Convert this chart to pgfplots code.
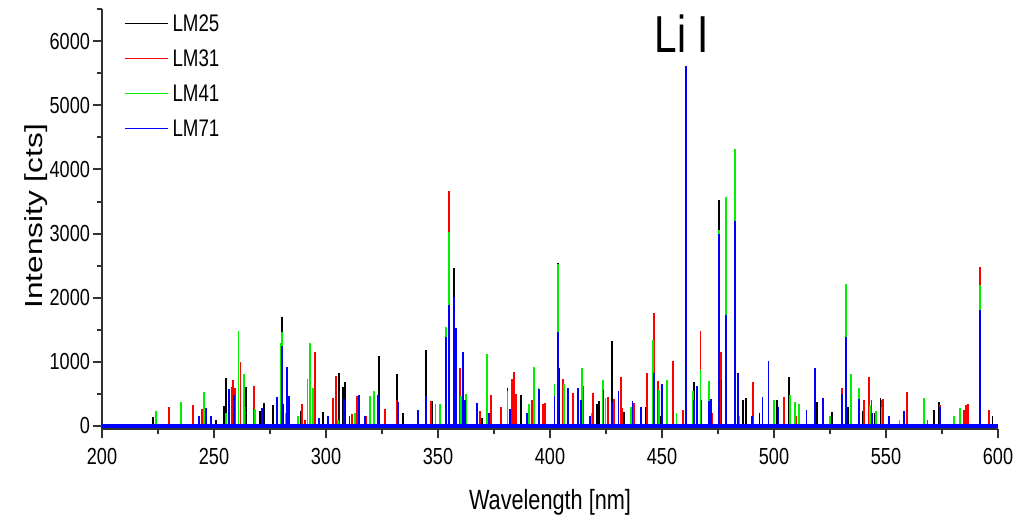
\documentclass[border=0pt]{standalone}
\usepackage{fontspec}
\setmainfont{Liberation Sans}
\newfontfamily\cf{Liberation Sans}[FakeStretch=0.78]
\usepackage{graphicx}
\usepackage{pgfplots}
\pgfplotsset{compat=1.18}
\definecolor{cRed}{RGB}{255,0,0}
\definecolor{cGreen}{RGB}{0,240,0}
\definecolor{cBlue}{RGB}{0,0,255}
\definecolor{axgray}{RGB}{50,50,50}
\begin{document}
\begin{tikzpicture}
\begin{axis}[
  scale only axis, width=448pt, height=210pt,
  xmin=200, xmax=600, ymin=-50, ymax=6500,
  axis x line=bottom, axis y line=left,
  axis line style={-, line width=1pt, axgray},
  tick align=outside, major tick length=4.5pt, minor tick length=2.5pt,
  every tick/.style={line width=1pt, axgray},
  xtick={200,250,...,600}, minor xtick={225,275,...,575},
  ytick={0,1000,...,6000}, minor ytick={500,1500,...,6500},
  /pgf/number format/assume math mode=true,
  /pgf/number format/1000 sep={},
  ticklabel style={font=\cf\fontsize{11.6}{13}\selectfont},
  yticklabel style={xshift=2pt},
  xticklabel style={yshift=-1.5pt},
  xlabel={\cf\fontsize{13.9}{16}\selectfont Wavelength [nm]},
  ylabel={\scalebox{1}[0.78]{\fontsize{15.8}{18}\selectfont Intensity [cts]}},
  xlabel style={at={(axis description cs:0.5,0)}, anchor=center, yshift=-36.5pt},
  ylabel style={at={(axis description cs:0,0.507)}, anchor=center, yshift=33pt},
  legend image code/.code={\draw[#1, line width=0.8pt] (0pt,0pt) -- (21.5pt,0pt);},
  legend cell align=left,
  legend style={at={(axis cs:209.6,6469)}, anchor=north west, draw=none, fill=none,
    inner sep=0pt, row sep=5.5pt, font=\cf\fontsize{12}{14}\selectfont,
    nodes={inner sep=2pt, text height=8pt, text depth=0pt}},
  clip=false,
]
\addlegendimage{black}\addlegendentry{LM25}
\addlegendimage{cRed}\addlegendentry{LM31}
\addlegendimage{cGreen}\addlegendentry{LM41}
\addlegendimage{cBlue}\addlegendentry{LM71}
\coordinate (o) at (rel axis cs:0,0);
% LM25
\addplot[black, line width=0.8pt, forget plot] coordinates {(200,0) (600,0)};
\addplot[ycomb, black, line width=0.9pt, forget plot] coordinates {
(222.6,140) (251,100) (254.6,310) (255.2,750) (258.5,400) (264.4,610) (270.5,240)
(272.3,360) (276.2,330) (280.5,1700) (281.0,350) (288.7,230) (298.5,215) (305.7,830)
(307.7,610) (308.6,690) (323.8,1090) (331.8,810) (334.2,200) (344.6,1180) (347.2,395)
(357.3,2470) (361.0,860) (369.5,120) (381.0,590) (384.5,370) (387.0,480) (403.4,2540)
(404.2,900) (421.1,345) (422.0,390) (427.5,1320) (433,220) (442.9,300) (449.5,150)
(464.4,690) (475.6,3520) (482.7,3180) (483.8,820) (486.3,400) (487.5,440) (493.5,200)
(499.8,370) (501.5,400) (506.7,760) (519.3,370) (526,220) (533,300) (539.8,230)
(545,200) (547.5,440) (571.5,250) (573.8,380) (597.5,150)};
% LM31
\addplot[cRed, line width=0.8pt, forget plot] coordinates {(200,0) (600,0)};
\addplot[ycomb, cRed, line width=0.9pt, forget plot] coordinates {
(230.0,300) (240.8,320) (244.6,265) (256.8,350) (258.0,610) (258.6,710) (259.3,600)
(261.8,1000) (264.0,300) (267.9,630) (289.3,350) (290.5,100) (295.2,1150) (303.3,430)
(304.6,780) (311.5,190) (314.0,460) (318,150) (326.2,270) (331.5,400) (347.0,385)
(355.0,3660) (357.3,2000) (359.9,900) (368.9,230) (373.5,480) (378.0,300) (382.9,740)
(383.8,840) (384.8,500) (391.8,400) (396.7,350) (397.6,360) (403.4,2100) (405.9,740)
(408.0,480) (410.1,520) (414.9,620) (419.3,510) (426.0,450) (428.5,420) (431.8,760)
(432.3,280) (437.5,360) (443.4,830) (446.6,1760) (448.1,700) (454.9,1020) (459.5,250)
(467.2,1480) (472.5,200) (476.5,1160) (490.6,690) (504.5,450) (510,150) (530.2,590)
(540.3,400) (542.3,760) (543.5,400) (545.5,230) (548,410) (548.8,420) (559.5,525)
(568.5,100) (574.2,330) (584.8,250) (585.8,320) (586.5,340) (592.1,2480) (596.1,250)};
% LM41
\addplot[cGreen, line width=0.8pt, forget plot] coordinates {(200,0) (600,0)};
\addplot[ycomb, cGreen, line width=0.9pt, forget plot] coordinates {
(224.1,234) (235.4,374) (245.7,530) (255.5,200) (260.9,1485) (263.5,810) (268.2,270)
(279.8,1290) (280.2,1470) (282,200) (287.5,150) (291.7,740) (293.0,1290) (294.3,600)
(305.5,100) (313,200) (319.8,467) (321.6,550) (348.9,340) (350.9,350) (353.4,1537)
(355.0,3030) (360.3,470) (362.6,500) (367.5,150) (372.0,1120) (381.0,550) (390.5,350)
(392.9,920) (394.9,600) (402.0,650) (403.4,2520) (406.3,660) (414.4,900) (418.5,200)
(423.8,720) (424.8,430) (436.0,300) (440.5,200) (446.1,1340) (448.6,560) (452.1,710)
(456.5,200) (464.0,540) (467.2,870) (471.1,706) (475.6,3050) (478.6,3573) (482.7,4320)
(484.5,150) (500.1,400) (507.1,490) (509.5,380) (511.3,350) (525,150) (530.5,400)
(532.3,2210) (534.4,810) (537.9,600) (543.0,330) (545.5,230) (548,300) (556,100)
(566.8,440) (580.2,150) (583.2,280) (592.1,2200)};
% LM71
\addplot[cBlue, line width=2pt, forget plot] coordinates {(200,0) (600,0)};
\addplot[ycomb, cBlue, line width=0.9pt, forget plot] coordinates {
(243.2,156) (246.5,280) (248.5,156) (256.6,570) (259.0,480) (271.4,280) (278.0,457)
(280.3,1250) (282.7,924) (283.5,470) (297,120) (301,150) (306,550) (308,420) (310.5,150)
(314.6,483) (317.5,150) (323.1,480) (332.0,380) (341.2,245) (344.6,470) (353.4,1392)
(355.0,1885) (357.3,2015) (358.2,1522) (361.3,1158) (362.0,400) (367.5,360) (372.8,200)
(382,270) (389.8,200) (395.2,570) (402.0,460) (403.4,1470) (408.2,590) (412.4,590)
(414.0,400) (418.0,150) (423.9,560) (427.8,380) (430.6,540) (436.8,390) (440.5,300)
(446.4,830) (450.0,650) (460.8,5620) (464.3,400) (465.5,620) (467.6,400) (471.0,390)
(472.0,420) (475.6,3000) (476.6,720) (478.6,1730) (482.7,3200) (483.8,810) (490.0,150)
(494.9,450) (497.5,1010) (502,300) (514.5,250) (518.4,910) (522.0,430) (530.4,500)
(532.3,1390) (538,420) (543.8,200) (551.5,150) (558.2,240) (574.2,300) (592.1,1810)};
\node[font=\cf\fontsize{26}{30}\selectfont] at (axis cs:458.9,6123) {Li I};
\end{axis}
\path (o) ++(-51pt,-46.9pt) rectangle ++(513.5pt,261.5pt);
\end{tikzpicture}
\end{document}
